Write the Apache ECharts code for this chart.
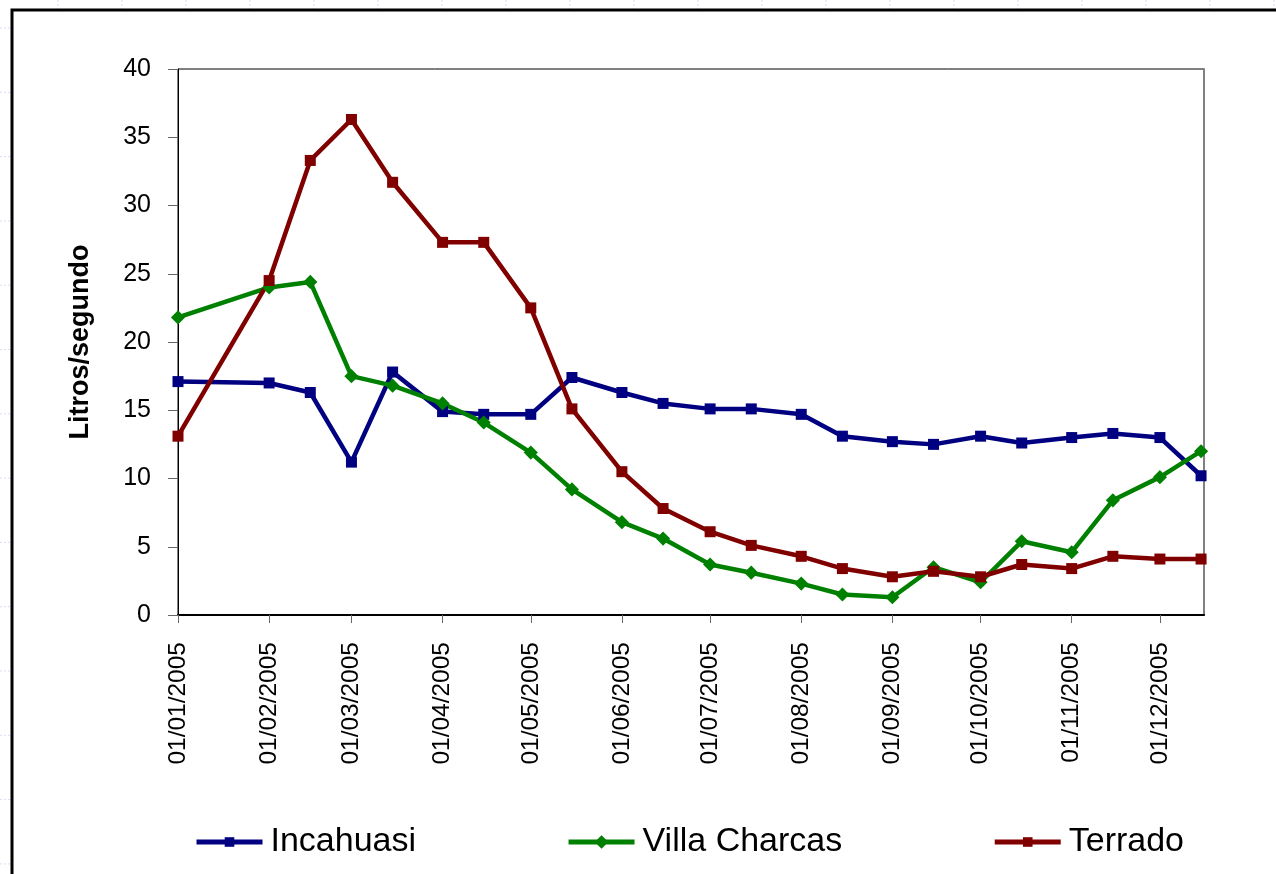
<!DOCTYPE html>
<html>
<head>
<meta charset="utf-8">
<script src="https://cdn.jsdelivr.net/npm/echarts@6/dist/echarts.min.js"></script>
<style>
html,body{margin:0;padding:0;background:#fff;}
#c{width:1276px;height:874px;}
</style>
</head>
<body>
<div id="c"></div>
<script>
const dates = ['2005-01-01','2005-02-01','2005-02-15','2005-03-01','2005-03-15','2005-04-01','2005-04-15','2005-05-01','2005-05-15','2005-06-01','2005-06-15','2005-07-01','2005-07-15','2005-08-01','2005-08-15','2005-09-01','2005-09-15','2005-10-01','2005-10-15','2005-11-01','2005-11-15','2005-12-01','2005-12-15'];
const incahuasi = [17.1,17.0,16.3,11.2,17.8,14.9,14.7,14.7,17.4,16.3,15.5,15.1,15.1,14.7,13.1,12.7,12.5,13.1,12.6,13.0,13.3,13.0,10.2];
const villaCharcas = [21.8,24.0,24.4,17.5,16.8,15.5,14.1,11.9,9.2,6.8,5.6,3.7,3.1,2.3,1.5,1.3,3.5,2.4,5.4,4.6,8.4,10.1,12.0];
const terrado = [13.1,24.5,33.3,36.3,31.7,27.3,27.3,22.5,15.1,10.5,7.8,6.1,5.1,4.3,3.4,2.8,3.2,2.8,3.7,3.4,4.3,4.1,4.1];
const seriesNames = ['Incahuasi','Villa Charcas','Terrado'];
const tickDates = ['2005-01-01','2005-02-01','2005-03-01','2005-04-01','2005-05-01','2005-06-01','2005-07-01','2005-08-01','2005-09-01','2005-10-01','2005-11-01','2005-12-01'];
const yAxisTitle = 'Litros/segundo';

function pad(n){return (n<10?'0':'')+n;}
function parseD(s){const p=s.split('-');return Date.UTC(+p[0],+p[1]-1,+p[2]);}
const tickValues = tickDates.map(parseD);
const xMin = parseD('2005-01-01');
const xMax = parseD('2005-12-16');

const FONT = '"Liberation Sans Narrow","Arial Narrow","Liberation Sans",Arial,sans-serif';

function mk(vals){return dates.map((d,i)=>[parseD(d),vals[i]]);}

const gfx = [];
for(let x=58;x<1276;x+=64){gfx.push({type:'line',shape:{x1:x,y1:0,x2:x,y2:9},style:{stroke:'#d6def5',lineWidth:1,lineDash:[2,2]},z:-1});}
for(let y=28;y<874;y+=64.3){gfx.push({type:'line',shape:{x1:0,y1:y,x2:10,y2:y},style:{stroke:'#d6def5',lineWidth:1,lineDash:[2,2]},z:-1});}
gfx.push({type:'rect',shape:{x:12,y:10,width:1400,height:1000},style:{fill:null,stroke:'#000',lineWidth:3},z:10});

const chart = echarts.init(document.getElementById('c'),null,{renderer:'canvas'});
chart.setOption({
  animation:false,
  backgroundColor:'#fff',
  graphic:gfx,
  grid:{left:178,top:69,right:72,bottom:259,show:true,borderColor:'#000',borderWidth:1,backgroundColor:'#fff'},
  legend:{
    left:189, top:820,
    itemWidth:66, itemHeight:12, itemGap:150,
    lineStyle:{width:5},
    textStyle:{fontFamily:FONT,fontSize:34,color:'#000',padding:[0,0,0,3]},
    data:seriesNames
  },
  xAxis:{
    type:'value', min:xMin, max:xMax,
    axisLine:{show:true,lineStyle:{color:'#000',width:2}},
    axisTick:{show:true,length:8,lineStyle:{color:'#666',width:1},customValues:tickValues},
    splitLine:{show:false},
    axisLabel:{
      rotate:90, margin:27, fontFamily:FONT, fontSize:24.5, color:'#000',
      customValues:tickValues,
      formatter:function(v){const d=new Date(v);return pad(d.getUTCDate())+'/'+pad(d.getUTCMonth()+1)+'/'+d.getUTCFullYear();}
    }
  },
  yAxis:[{
    type:'value', min:0, max:40, interval:5,
    name:yAxisTitle, nameLocation:'middle', nameGap:84, nameRotate:90,
    nameTextStyle:{fontFamily:FONT,fontSize:27,fontWeight:'bold',color:'#000'},
    axisLine:{show:true,lineStyle:{color:'#000',width:1}},
    axisTick:{show:true,length:10,lineStyle:{color:'#666'}},
    splitLine:{show:false},
    axisLabel:{margin:27,fontFamily:FONT,fontSize:25,color:'#000'}
  },{
    type:'value', min:0, max:40, position:'right',
    axisLine:{show:true,lineStyle:{color:'#808080',width:2}},
    axisTick:{show:false}, axisLabel:{show:false}, splitLine:{show:false}
  }],
  series:[
    {name:seriesNames[0],type:'line',data:mk(incahuasi),color:'#000080',
     lineStyle:{width:4.5,color:'#000080'},symbol:'rect',symbolSize:11,
     itemStyle:{color:'#000080'}},
    {name:seriesNames[1],type:'line',data:mk(villaCharcas),color:'#008000',
     lineStyle:{width:4.5,color:'#008000'},symbol:'rect',symbolRotate:45,symbolSize:10,
     itemStyle:{color:'#008000'}},
    {name:seriesNames[2],type:'line',data:mk(terrado),color:'#800000',
     lineStyle:{width:4.5,color:'#800000'},symbol:'rect',symbolSize:11,
     itemStyle:{color:'#800000'}}
  ]
});
</script>
</body>
</html>
